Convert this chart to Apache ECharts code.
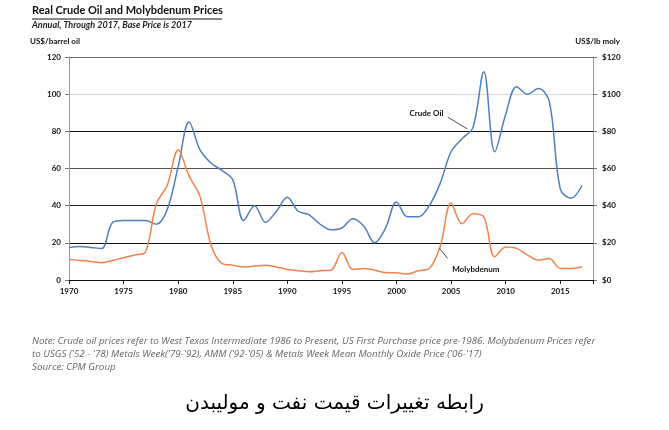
<!DOCTYPE html>
<html>
<head>
<meta charset="utf-8">
<script src="https://cdn.jsdelivr.net/npm/echarts@6/dist/echarts.min.js"></script>
<style>
html,body{margin:0;padding:0;background:#fff;}
#chart{width:669px;height:430px;}
</style>
</head>
<body>
<div id="chart"></div>
<script>
const years = [1970,1971,1972,1973,1974,1975,1976,1977,1978,1979,1980,1981,1982,1983,1984,1985,1986,1987,1988,1989,1990,1991,1992,1993,1994,1995,1996,1997,1998,1999,2000,2001,2002,2003,2004,2005,2006,2007,2008,2009,2010,2011,2012,2013,2014,2015,2016,2017];
const crudeOil = [17.5,18,17.5,17,31,32,32,32,30,38,61,85,70,63,59,54,32,40,31,37,44.5,37,35,30,27,28,33,29,20,28,42,34,34,40,52,69,76,82,112,69,89,104,100,103,96,49,44,51];
const molybdenum = [11,10.5,10,9.3,10.5,12,13.4,15,41,51,70,56,45,19,9,8,7,7.5,8,7,5.7,5,4.5,5,5.3,14.8,5.7,6.2,5.3,4,3.9,3.2,5,6.2,18,41.4,30.3,35.7,34,12.5,17.8,17,13.4,10.7,11.6,6.2,6.2,7.1];
const leftTicks = [0,20,40,60,80,100,120];
const rightTicks = ['$0','$20','$40','$60','$80','$100','$120'];
const xTickYears = [1970,1975,1980,1985,1990,1995,2000,2005,2010,2015];

const title = 'Real Crude Oil and Molybdenum Prices';
const subtitle = 'Annual, Through 2017, Base Price is 2017';
const leftUnit = 'US$/barrel oil';
const rightUnit = 'US$/lb moly';
const noteLines = [
  "Note: Crude oil prices refer to West Texas Intermediate 1986 to Present, US First Purchase price pre-1986. Molybdenum Prices refer",
  "to USGS ('52 - '78) Metals Week('79-'92), AMM ('92-'05) & Metals Week Mean Monthly Oxide Price ('06-'17)",
  "Source: CPM Group"
];
const caption = 'رابطه تغییرات قیمت نفت و مولیبدن';

const oilData = years.map((y,i)=>[y,crudeOil[i]]);
const molyData = years.map((y,i)=>[y,molybdenum[i]]);

const chart = echarts.init(document.getElementById('chart'));
const fontFam = 'Lato, "Open Sans", sans-serif';
chart.setOption({
  backgroundColor:'#fff',
  animation:false,
  grid:{left:69,right:76,top:57,bottom:150},
  xAxis:{
    type:'value',min:1970,max:2018,interval:5,
    axisLine:{show:true,lineStyle:{color:'#111',width:1.2}},
    axisTick:{show:true,length:4,lineStyle:{color:'#111'}},
    axisLabel:{color:'#111',fontSize:8,fontWeight:'bold',fontFamily:fontFam,margin:7,
      formatter:v=>xTickYears.indexOf(v)>=0?String(v):''},
    splitLine:{show:false}
  },
  yAxis:[{
    type:'value',min:0,max:120,interval:20,
    axisLine:{show:true,lineStyle:{color:'#999'}},
    axisTick:{show:true,length:4,lineStyle:{color:'#777'}},
    axisLabel:{color:'#111',fontSize:8,fontWeight:'bold',fontFamily:fontFam,margin:8,
      formatter:v=>String(leftTicks[leftTicks.indexOf(v)])},
    splitLine:{show:true,lineStyle:{color:['#111','#111','#222','#555','#111','#d8d8d8','#666'],width:1.2}}
  },{
    type:'value',min:0,max:120,interval:20,position:'right',
    axisLine:{show:true,lineStyle:{color:'#999'}},
    axisTick:{show:true,length:4,lineStyle:{color:'#777'}},
    axisLabel:{color:'#111',fontSize:8,fontWeight:'bold',fontFamily:fontFam,margin:9,
      formatter:v=>rightTicks[leftTicks.indexOf(v)]},
    splitLine:{show:false}
  }],
  series:[{
    name:'Crude Oil',type:'line',yAxisIndex:0,data:oilData,smooth:0.35,showSymbol:false,
    lineStyle:{color:'#4f7fc0',width:1.5},itemStyle:{color:'#4f7fc0'},
    markLine:{silent:true,symbol:['none','none'],lineStyle:{color:'#222',width:0.8,type:'solid'},label:{show:false},
      data:[[{coord:[2004.7,87.6]},{coord:[2006.5,81.3]}]]},
    markPoint:{silent:true,symbol:'circle',symbolSize:0,
      data:[{coord:[2004.3,89.5],label:{show:true,formatter:'Crude Oil',position:'left',distance:0,color:'#111',fontSize:8,fontWeight:'bold',fontFamily:fontFam}}]}
  },{
    name:'Molybdenum',type:'line',yAxisIndex:1,data:molyData,smooth:0.35,showSymbol:false,
    lineStyle:{color:'#f0834a',width:1.5},itemStyle:{color:'#f0834a'},
    markLine:{silent:true,symbol:['none','none'],lineStyle:{color:'#222',width:0.8,type:'solid'},label:{show:false},
      data:[[{coord:[2003.94,17]},{coord:[2004.7,11.6]}]]},
    markPoint:{silent:true,symbol:'circle',symbolSize:0,
      data:[{coord:[2005.1,5.9],label:{show:true,formatter:'Molybdenum',position:'right',distance:0,color:'#111',fontSize:8,fontWeight:'bold',fontFamily:fontFam}}]}
  }],
  graphic:[
    {type:'text',left:32,top:5,style:{text:title,fontSize:11,fontWeight:'bold',fontFamily:fontFam,fill:'#111'}},
    {type:'line',shape:{x1:32,y1:19,x2:222,y2:19},style:{stroke:'#111',lineWidth:1}},
    {type:'text',left:32,top:21,style:{text:subtitle,fontSize:9,fontWeight:'bold',fontStyle:'italic',fontFamily:fontFam,fill:'#222'}},
    {type:'text',left:30,top:37,style:{text:leftUnit,fontSize:8,fontWeight:'bold',fontFamily:fontFam,fill:'#111'}},
    {type:'text',right:49,top:37,style:{text:rightUnit,fontSize:8,fontWeight:'bold',fontFamily:fontFam,fill:'#111'}},
    {type:'text',left:32,top:336,style:{text:noteLines[0],fontSize:9.8,fontStyle:'italic',fontFamily:'"Open Sans", sans-serif',fill:'#666'}},
    {type:'text',left:32,top:349,style:{text:noteLines[1],fontSize:9.8,fontStyle:'italic',fontFamily:'"Open Sans", sans-serif',fill:'#666'}},
    {type:'text',left:32,top:362,style:{text:noteLines[2],fontSize:9.8,fontStyle:'italic',fontFamily:'"Open Sans", sans-serif',fill:'#666'}},
    {type:'text',left:'center',top:394,style:{text:caption,fontSize:20,fontFamily:'"DejaVu Sans", sans-serif',fill:'#000'}}
  ]
});
</script>
</body>
</html>
